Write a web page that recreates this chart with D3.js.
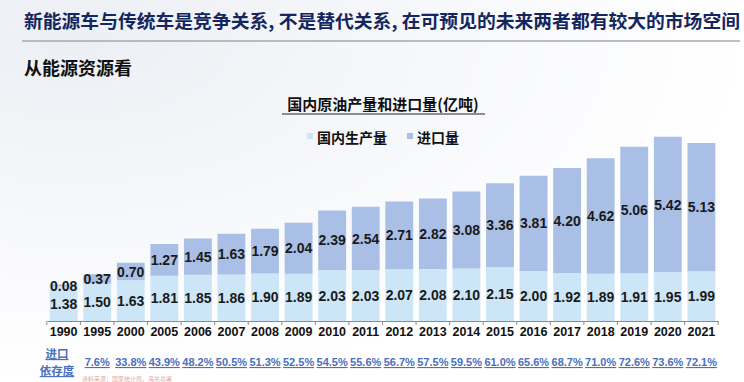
<!DOCTYPE html>
<html>
<head>
<meta charset="utf-8">
<script src="https://cdn.jsdelivr.net/npm/d3@7"></script>
<style>
  html, body { margin: 0; padding: 0; background: #fff; }
  svg { display: block; }
</style>
</head>
<body>
<svg id="chart" width="744" height="382"></svg>
<script>
const years = ['1990', '1995', '2000', '2005', '2006', '2007', '2008', '2009', '2010', '2011',
  '2012', '2013', '2014', '2015', '2016', '2017', '2018', '2019', '2020', '2021'];
const domestic = [1.38, 1.50, 1.63, 1.81, 1.85, 1.86, 1.90, 1.89, 2.03, 2.03,
  2.07, 2.08, 2.10, 2.15, 2.00, 1.92, 1.89, 1.91, 1.95, 1.99];
const imports = [0.08, 0.37, 0.70, 1.27, 1.45, 1.63, 1.79, 2.04, 2.39, 2.54,
  2.71, 2.82, 3.08, 3.36, 3.81, 4.20, 4.62, 5.06, 5.42, 5.13];
const dependence = [null, '7.6%', '33.8%', '43.9%', '48.2%', '50.5%', '51.3%', '52.5%', '54.5%', '55.6%',
  '56.7%', '57.5%', '59.5%', '61.0%', '65.6%', '68.7%', '71.0%', '72.6%', '73.6%', '72.1%'];
const seriesNames = ['国内生产量', '进口量'];

const COLORS = ['#cce6f8', '#a9bfe5'];
const CJK = '"Noto Sans CJK SC", "Noto Sans", sans-serif';
const NUM = '"Liberation Sans", Arial, sans-serif';

const svg = d3.select('#chart');

// background wash
let defs = svg.append('defs');
let grad = defs.append('radialGradient').attr('id', 'bg')
  .attr('cx', '0.1').attr('cy', '0.1').attr('r', '0.9');
grad.append('stop').attr('offset', '0%').attr('stop-color', '#eceff4');
grad.append('stop').attr('offset', '55%').attr('stop-color', '#f7f8fb');
grad.append('stop').attr('offset', '100%').attr('stop-color', '#ffffff');
svg.append('rect').attr('width', 744).attr('height', 382).attr('fill', 'url(#bg)');

// headline
svg.append('text')
  .attr('x', 24).attr('y', 28)
  .attr('textLength', 716).attr('lengthAdjust', 'spacingAndGlyphs')
  .style('font-family', CJK).style('font-weight', 700).style('font-size', '18px')
  .style('fill', '#14265e')
  .text('新能源车与传统车是竞争关系, 不是替代关系, 在可预见的未来两者都有较大的市场空间');
svg.append('line')
  .attr('x1', 22).attr('x2', 740).attr('y1', 41).attr('y2', 41)
  .style('stroke', '#a3a8b2').style('stroke-width', 1.5);

svg.append('text')
  .attr('x', 24).attr('y', 75)
  .style('font-family', CJK).style('font-weight', 700).style('font-size', '18px')
  .style('fill', '#111')
  .text('从能源资源看');

// chart title
svg.append('text')
  .attr('x', 383).attr('y', 110).attr('text-anchor', 'middle')
  .style('font-family', CJK).style('font-weight', 700).style('font-size', '15px')
  .style('fill', '#111')
  .text('国内原油产量和进口量(亿吨)');
svg.append('line')
  .attr('x1', 282).attr('x2', 485).attr('y1', 114).attr('y2', 114)
  .style('stroke', '#222').style('stroke-width', 1);

// legend
let legendX = [307, 407];
seriesNames.forEach((name, i) => {
  svg.append('rect')
    .attr('x', legendX[i]).attr('y', 133).attr('width', 6).attr('height', 6)
    .style('fill', COLORS[i]);
  svg.append('text')
    .attr('x', legendX[i] + 10).attr('y', 143)
    .style('font-family', CJK).style('font-weight', 700).style('font-size', '14px')
    .style('fill', '#111')
    .text(name);
});

// scales
let x = d3.scaleBand().domain(years).range([47, 718]).paddingInner(0.17).paddingOuter(0.08);
let y = d3.scaleLinear().domain([0, 7.4]).range([321, 136]);

let rows = years.map((yr, i) => ({ year: yr, domestic: domestic[i], imports: imports[i] }));
let stacked = d3.stack().keys(['domestic', 'imports'])(rows);

let layers = svg.append('g').selectAll('g')
  .data(stacked)
  .join('g')
  .style('fill', (d, i) => COLORS[i]);

layers.selectAll('rect')
  .data(d => d)
  .join('rect')
  .attr('x', d => x(d.data.year))
  .attr('width', x.bandwidth())
  .attr('y', d => y(d[1]))
  .attr('height', d => y(d[0]) - y(d[1]));

// value labels centred in each segment
layers.selectAll('text')
  .data(d => d)
  .join('text')
  .attr('x', d => x(d.data.year) + x.bandwidth() / 2)
  .attr('y', d => (y(d[0]) + y(d[1])) / 2 + 5)
  .attr('text-anchor', 'middle')
  .style('font-family', NUM).style('font-weight', 700).style('font-size', '14px')
  .style('fill', '#1a1a1a')
  .text(d => (d[1] - d[0]).toFixed(2));

// axis
let axis = svg.append('g')
  .attr('transform', 'translate(0,' + y(0) + ')')
  .call(d3.axisBottom(x).tickSize(0).tickPadding(6));
axis.select('.domain').style('stroke', '#8c8c8c');
axis.selectAll('text')
  .style('font-family', NUM).style('font-weight', 700).style('font-size', '12.5px')
  .style('fill', '#111');

let step = x.step();
let bounds = years.map(yr => x(yr) - step * x.paddingInner() / 2).concat([x(years[years.length - 1]) + x.bandwidth() + step * x.paddingInner() / 2]);
axis.selectAll('line.sep')
  .data(bounds)
  .join('line')
  .attr('class', 'sep')
  .attr('x1', d => d).attr('x2', d => d)
  .attr('y1', 0).attr('y2', 4)
  .style('stroke', '#8c8c8c');

// import dependence row
let depColor = '#4a6fbf';
svg.append('text')
  .attr('x', 57).attr('y', 358).attr('text-anchor', 'middle')
  .style('font-family', CJK).style('font-weight', 700).style('font-size', '11.5px')
  .style('fill', depColor).style('text-decoration', 'underline')
  .text('进口');
svg.append('text')
  .attr('x', 57).attr('y', 375).attr('text-anchor', 'middle')
  .style('font-family', CJK).style('font-weight', 700).style('font-size', '11.5px')
  .style('fill', depColor).style('text-decoration', 'underline')
  .text('依存度');

svg.append('g').selectAll('text')
  .data(years.map((yr, i) => ({ year: yr, v: dependence[i] })).filter(d => d.v))
  .join('text')
  .attr('x', d => x(d.year) + x.bandwidth() / 2)
  .attr('y', 366)
  .attr('text-anchor', 'middle')
  .style('font-family', NUM).style('font-weight', 700).style('font-size', '11px')
  .style('fill', depColor).style('text-decoration', 'underline')
  .text(d => d.v);

// faint source line at the very bottom
svg.append('text')
  .attr('x', 82).attr('y', 381)
  .style('font-family', CJK).style('font-size', '6px')
  .style('fill', '#c0504d').style('opacity', 0.5)
  .text('资料来源：国家统计局、海关总署');
</script>
</body>
</html>
